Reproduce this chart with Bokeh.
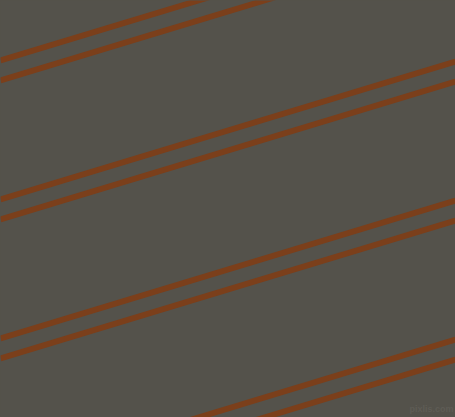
from bokeh.plotting import figure
from bokeh.models import Range1d, GlobalInlineStyleSheet
from bokeh.embed import file_html
from bokeh.resources import INLINE
from bokeh.core.properties import value

# Line intercepts (pixel y at x=0) of each double stripe, slope in px/px
pair_starts = [-79, 60, 199, 338, 477]
pair_offsets = [0, 20]
slope = -0.3033
x_left = 0
x_right = 455

bg = "#54524B"
line_color = "#7B3F1B"

p = figure(width=455, height=417, output_backend="svg", toolbar_location=None,
           x_range=Range1d(0, 455), y_range=Range1d(417, 0),
           background_fill_color=bg, border_fill_color=bg, min_border=0)
p.axis.visible = False
p.grid.visible = False
p.outline_line_color = None

x0s, y0s, x1s, y1s = [], [], [], []
for s in pair_starts:
    for o in pair_offsets:
        b = s + o
        x0s.append(x_left)
        y0s.append(b + slope * x_left)
        x1s.append(x_right)
        y1s.append(b + slope * x_right)

p.segment(x0=x0s, y0=y0s, x1=x1s, y1=y1s, line_color=line_color, line_width=5.8)

p.text(x=[431], y=[413], text=["pixlis.com"], text_color="#5E5C55",
       text_font=value("Liberation Sans"), text_font_size="9px", text_font_style="bold",
       text_align="center", text_baseline="bottom")

p.stylesheets = [GlobalInlineStyleSheet(css="body{background:%s;}" % bg)]

open("out.html", "w").write(file_html(p, INLINE))
